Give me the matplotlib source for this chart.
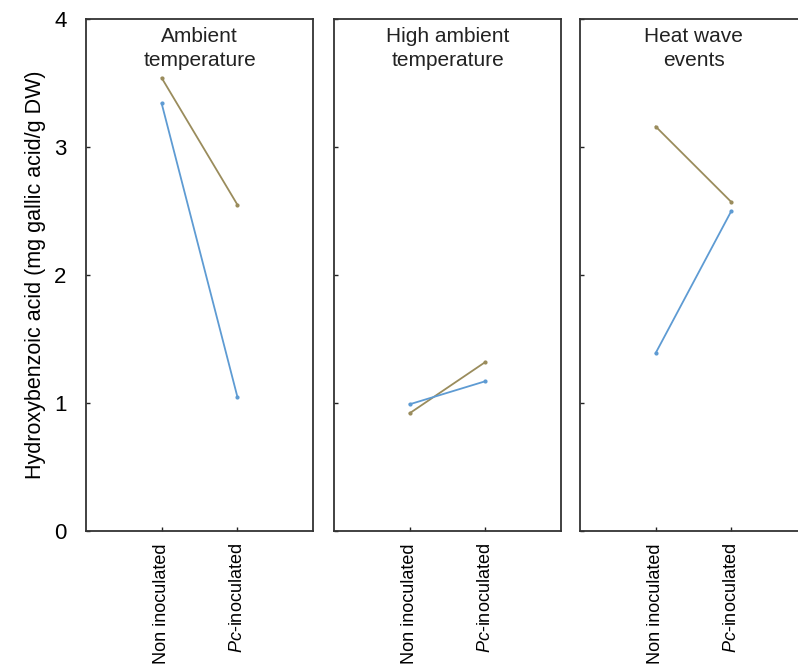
import matplotlib
matplotlib.use("Agg")
import matplotlib.pyplot as plt

plt.rcParams['font.family'] = ['Liberation Sans', 'DejaVu Sans']
plt.rcParams['mathtext.fontset'] = 'custom'
plt.rcParams['mathtext.rm'] = 'Liberation Sans'
plt.rcParams['mathtext.it'] = 'Liberation Sans:italic'

# data
treatments = ["Non inoculated", r"$\it{Pc}$-inoculated"]
panels = ["Ambient\ntemperature", "High ambient\ntemperature", "Heat wave\nevents"]
olive_vals = [[3.54, 2.55], [0.92, 1.32], [3.16, 2.57]]
blue_vals = [[3.34, 1.05], [0.99, 1.17], [1.39, 2.50]]

olive = "#9a8c5c"
blue = "#5e9bd3"

fig = plt.figure(figsize=(7.98, 6.67), dpi=100)
W, H = 798, 667
lefts = [86, 334, 580]
pw = 227
top, bottom = 19, 531

for i, title in enumerate(panels):
    ax = fig.add_axes([lefts[i] / W, (H - bottom) / H, pw / W, (bottom - top) / H])
    x = [1, 2]
    ax.plot(x, olive_vals[i], color=olive, lw=1.3, marker='o', ms=2)
    ax.plot(x, blue_vals[i], color=blue, lw=1.3, marker='o', ms=2)
    ax.set_xlim(0, 3)
    ax.set_ylim(0, 4)
    ax.set_yticks([0, 1, 2, 3, 4])
    ax.set_xticks(x)
    ax.set_xticklabels(treatments, rotation=90, fontsize=13)
    ax.tick_params(direction='in', length=3, width=1, color='#222222')
    ax.tick_params(axis='x', pad=9)
    for s in ax.spines.values():
        s.set_color('#333333')
        s.set_linewidth(1.3)
    # panel heading inside the box
    ax.text(0.5, 0.985, title, transform=ax.transAxes, ha='center', va='top',
            fontsize=15, color='#222222', linespacing=1.35)
    if i == 0:
        ax.set_yticklabels(["0", "1", "2", "3", "4"], fontsize=16)
        ax.tick_params(axis='y', pad=14)
        ax.set_ylabel("Hydroxybenzoic acid (mg gallic acid/g DW)", fontsize=15.5, labelpad=6)
    else:
        ax.set_yticklabels([])

fig.savefig("out.png", dpi=100)
